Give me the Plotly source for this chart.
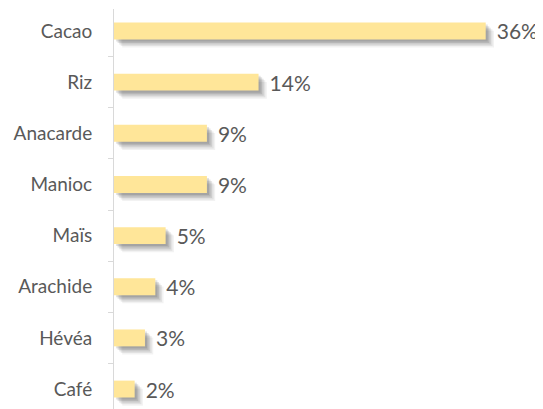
import plotly.graph_objects as go

# cultures et part en %
cultures = ["Cacao", "Riz", "Anacarde", "Manioc", "Maïs", "Arachide", "Hévéa", "Café"]
parts = [36, 14, 9, 9, 5, 4, 3, 2]
etiquettes = [f"{p}%" for p in parts]

bar_color = "#FFE699"
text_color = "#595959"
bar_w = 0.33

fig = go.Figure()

# ombre portée floue: quelques couches grises décalées vers la droite et le bas
for dx, dy, op in [(0.2, 0.04, 0.12), (0.35, 0.07, 0.12), (0.5, 0.1, 0.1),
                   (0.65, 0.13, 0.08), (0.8, 0.16, 0.06)]:
    fig.add_trace(go.Bar(
        y=cultures, x=parts, base=dx, orientation="h",
        width=bar_w, offset=-bar_w / 2 - dy,
        marker=dict(color="rgba(30,30,30,%s)" % op, line_width=0),
        hoverinfo="skip", showlegend=False,
    ))

fig.add_trace(go.Bar(
    y=cultures, x=parts, orientation="h", width=bar_w,
    marker=dict(color=bar_color, line_width=0),
    text=["\u00a0\u2009" + t for t in etiquettes], textposition="outside",
    constraintext="none",
    textfont=dict(family="Lato", size=21, color=text_color),
    cliponaxis=False, showlegend=False,
))

# la page ajoute une marge de 8px autour du graphique
fig.update_layout(
    width=535, height=401,
    margin=dict(l=106, r=0, t=1, b=0, autoexpand=False),
    barmode="overlay",
    plot_bgcolor="white", paper_bgcolor="white",
    font=dict(family="Lato", color=text_color),
)
fig.update_xaxes(range=[0, 41.55], visible=False, automargin=False)
fig.update_yaxes(
    type="category", categoryorder="array", categoryarray=cultures[::-1],
    range=[-0.39, 7.43], automargin=False,
    showline=True, linecolor="#D9D9D9", linewidth=1,
    ticks="outside", tickson="boundaries", ticklen=5, tickcolor="#D9D9D9",
    showgrid=False, tickfont=dict(family="Lato", size=19, color=text_color),
    ticklabelstandoff=17,
)

fig.write_html("out.html")
